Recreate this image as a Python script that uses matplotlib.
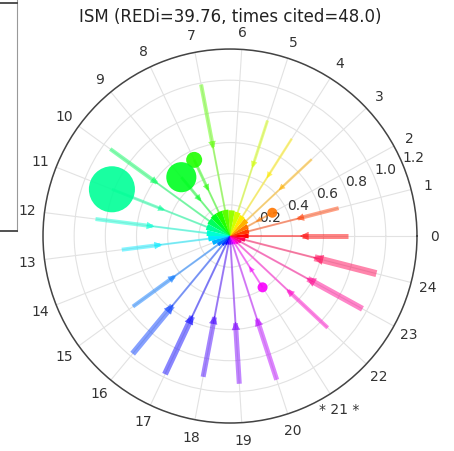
import matplotlib
matplotlib.use("Agg")
import matplotlib.pyplot as plt
import numpy as np


TITLE = "ISM (REDi=39.76, times cited=48.0)"
THETA_LABELS = [str(i) for i in range(21)] + ["* 21 *", "22", "23", "24"]
R_TICKS = [0.2, 0.4, 0.6, 0.8, 1.0, 1.2]

# per-spoke values, index 0..24
SPOKE_END = [0.76, 0.72, 0.30, 0.72, 0.74, 0.78, 0.12, 0.99, 0.54, 0.49, 0.95, 0.815, 0.87,
             0.70, 0.10, 0.77, 0.98, 0.98, 0.92, 0.95, 0.97, 0.39, 0.86, 0.97, 0.97]
SPOKE_MID = [0.46, 0.45, 0.20, 0.44, 0.45, 0.47, 0.08, 0.58, 0.33, 0.30, 0.58, 0.46, 0.50,
             0.45, 0.06, 0.44, 0.58, 0.57, 0.53, 0.56, 0.56, 0.24, 0.51, 0.57, 0.56]
SPOKE_WEIGHT = [5, 4, 2, 2.5, 2.5, 3, 2, 4, 3, 3, 4, 3, 4, 4, 2, 4, 6, 6, 5, 5, 5, 2, 4, 6, 7]
HUB = [0.12, 0.125, 0.13, 0.145, 0.15, 0.16, 0.165, 0.17, 0.17, 0.17, 0.165, 0.16, 0.15,
       0.14, 0.12, 0.095, 0.075, 0.06, 0.055, 0.055, 0.055, 0.06, 0.07, 0.08, 0.10]

# cited works
DOT_SPOKE = [2, 8, 9, 11, 21]
DOT_R = [0.31, 0.54, 0.49, 0.815, 0.39]
DOT_SIZE = [52, 133, 470, 1100, 52]


def main() -> None:
    n = len(THETA_LABELS)
    theta = np.arange(n) * 2 * np.pi / n
    colors = plt.cm.hsv(np.arange(n) / n)
    px = 0.72

    fig = plt.figure(figsize=(4.54, 4.52), dpi=100)
    ax = fig.add_axes([0.0947, 0.0619, 0.8238, 0.8274], projection="polar")

    # hub wheel
    ax.bar(theta, HUB, width=2 * np.pi / n, color=colors, edgecolor="none", zorder=4)

    for i in range(n):
        c = colors[i]
        w = SPOKE_WEIGHT[i]
        ax.plot([theta[i], theta[i]], [0, SPOKE_MID[i]], color=c, lw=2.0 * px,
                alpha=0.48, solid_capstyle="butt", zorder=2)
        ax.plot([theta[i], theta[i]], [SPOKE_MID[i], SPOKE_END[i]], color=c, lw=w * px,
                alpha=0.48, solid_capstyle="butt", zorder=2)
        ax.annotate(
            "",
            xy=(theta[i], SPOKE_MID[i] - 0.01),
            xytext=(theta[i], SPOKE_MID[i] + 0.04),
            arrowprops=dict(arrowstyle="-|>,head_length=0.4,head_width=0.2", color=c,
                            lw=0.3, alpha=0.55, shrinkA=0, shrinkB=0,
                            mutation_scale=6 + 1.6 * w),
            zorder=2,
        )

    ax.scatter(theta[DOT_SPOKE], DOT_R, s=DOT_SIZE, c=colors[DOT_SPOKE], alpha=0.9,
               edgecolors="none", zorder=3)

    ax.set_ylim(0, 1.2)
    ax.set_yticks(R_TICKS)
    ax.set_yticklabels([f"{v:.1f}" for v in R_TICKS], fontsize=10, color="#333333")
    ax.set_xticks(theta)
    ax.set_xticklabels(THETA_LABELS, fontsize=10, color="#333333")
    ax.tick_params(axis="x", pad=2)
    ax.grid(True, color="#e2e2e2", lw=0.8)
    ax.spines["polar"].set_color("#444444")
    ax.spines["polar"].set_linewidth(1.1)

    fig.text(230 / 454, 1 - 17 / 452, TITLE, ha="center", va="center", fontsize=12,
             color="#222222")

    # neighbouring panel edge left in the crop
    fig.add_artist(plt.Line2D([17 / 454, 17 / 454], [1, 1 - 232 / 452],
                              transform=fig.transFigure, color="#999999", lw=0.8))
    fig.add_artist(plt.Line2D([0, 17 / 454], [1 - 4 / 452, 1 - 4 / 452],
                              transform=fig.transFigure, color="#333333", lw=1.2))
    fig.add_artist(plt.Line2D([0, 17 / 454], [1 - 232 / 452, 1 - 232 / 452],
                              transform=fig.transFigure, color="#333333", lw=1.2))

    fig.savefig("out.png", dpi=100)
    plt.close(fig)


if __name__ == "__main__":
    main()
